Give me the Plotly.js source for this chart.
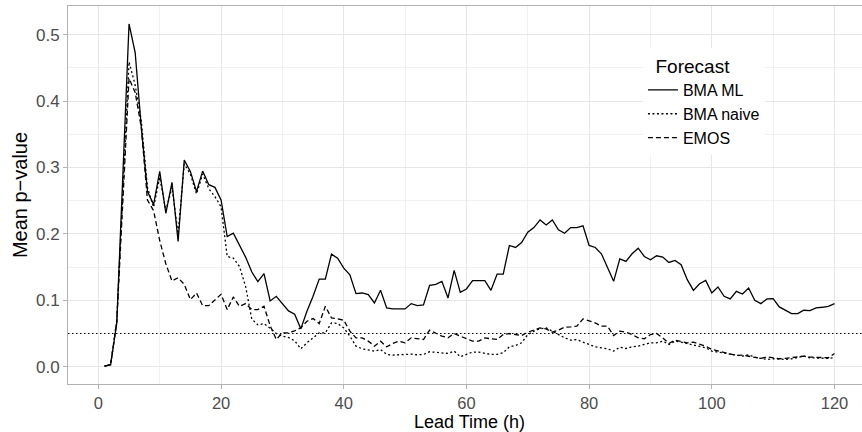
<!DOCTYPE html>
<html>
<head>
<meta charset="utf-8">
<script src="https://cdn.plot.ly/plotly-3.0.1.min.js"></script>
<style>
  html, body { margin: 0; padding: 0; overflow: hidden; background: #ffffff; }
  #chart { width: 871px; height: 432px; }
</style>
</head>
<body>
<div id="chart"></div>
<script>
// Lead times (h)
const leadTime = Array.from({length: 120}, (_, i) => i + 1);

// Mean p-value, BMA ML (solid)
const bmaML = [
  0.001, 0.003, 0.066, 0.290, 0.516, 0.473, 0.360, 0.264, 0.244, 0.294,
  0.231, 0.2775, 0.1885, 0.311, 0.294, 0.2635, 0.2945, 0.274, 0.270, 0.251,
  0.196, 0.201, 0.182, 0.165, 0.143, 0.128, 0.140, 0.099, 0.106, 0.095,
  0.084, 0.079, 0.057, 0.0835, 0.106, 0.132, 0.132, 0.1695, 0.1635, 0.1485,
  0.1385, 0.110, 0.111, 0.1085, 0.096, 0.115, 0.0885, 0.087, 0.087, 0.087,
  0.095, 0.092, 0.093, 0.1225, 0.124, 0.1285, 0.1035, 0.145, 0.112, 0.117,
  0.1295, 0.1295, 0.1295, 0.115, 0.1395, 0.1395, 0.1825, 0.1795, 0.187, 0.2025,
  0.2095, 0.221, 0.2135, 0.221, 0.206, 0.201, 0.2095, 0.2095, 0.212, 0.1825,
  0.1795, 0.170, 0.150, 0.1285, 0.1625, 0.1585, 0.170, 0.1785, 0.166, 0.161,
  0.167, 0.165, 0.157, 0.160, 0.1535, 0.131, 0.115, 0.125, 0.130, 0.111,
  0.120, 0.106, 0.102, 0.1135, 0.1095, 0.1185, 0.100, 0.095, 0.102, 0.1025,
  0.090, 0.0845, 0.080, 0.080, 0.085, 0.0845, 0.0885, 0.0895, 0.091, 0.095
];

// Mean p-value, BMA naive (dotted)
const bmaNaive = [
  0.001, 0.003, 0.070, 0.265, 0.459, 0.424, 0.370, 0.270, 0.240, 0.285,
  0.235, 0.270, 0.200, 0.305, 0.290, 0.260, 0.290, 0.268, 0.256, 0.241,
  0.166, 0.1635, 0.151, 0.121, 0.072, 0.063, 0.065, 0.058, 0.050, 0.046,
  0.044, 0.039, 0.027, 0.036, 0.0435, 0.051, 0.051, 0.066, 0.065, 0.0585,
  0.046, 0.031, 0.027, 0.025, 0.0235, 0.026, 0.0185, 0.0175, 0.018, 0.018,
  0.019, 0.018, 0.0185, 0.0225, 0.022, 0.021, 0.020, 0.0235, 0.015, 0.0185,
  0.022, 0.022, 0.020, 0.0185, 0.0185, 0.021, 0.030, 0.032, 0.036, 0.0485,
  0.0535, 0.057, 0.0585, 0.0535, 0.0485, 0.0435, 0.040, 0.041, 0.037, 0.0335,
  0.030, 0.0285, 0.027, 0.0235, 0.0295, 0.0275, 0.030, 0.031, 0.0335, 0.036,
  0.036, 0.0385, 0.0335, 0.0385, 0.037, 0.035, 0.0325, 0.031, 0.0285, 0.0235,
  0.022, 0.020, 0.0185, 0.0175, 0.016, 0.018, 0.0145, 0.0125, 0.011, 0.012,
  0.011, 0.011, 0.012, 0.0135, 0.016, 0.0135, 0.013, 0.013, 0.0125, 0.0135
];

// Mean p-value, EMOS (dashed)
const emos = [
  0.001, 0.003, 0.068, 0.255, 0.434, 0.413, 0.360, 0.251, 0.235, 0.190,
  0.155, 0.129, 0.134, 0.124, 0.101, 0.111, 0.092, 0.092, 0.101, 0.109,
  0.086, 0.105, 0.091, 0.095, 0.086, 0.086, 0.091, 0.062, 0.041, 0.051,
  0.051, 0.054, 0.0585, 0.0685, 0.0725, 0.065, 0.091, 0.0735, 0.072, 0.070,
  0.0535, 0.0435, 0.0435, 0.0385, 0.031, 0.0385, 0.030, 0.035, 0.0385, 0.036,
  0.0435, 0.042, 0.041, 0.055, 0.050, 0.046, 0.0435, 0.050, 0.046, 0.042,
  0.0385, 0.0385, 0.0435, 0.042, 0.041, 0.0485, 0.050, 0.0485, 0.047, 0.052,
  0.055, 0.0585, 0.057, 0.052, 0.055, 0.0595, 0.060, 0.061, 0.072, 0.0685,
  0.066, 0.061, 0.061, 0.047, 0.0535, 0.052, 0.0485, 0.0435, 0.042, 0.0485,
  0.050, 0.0435, 0.035, 0.040, 0.0385, 0.036, 0.037, 0.0335, 0.031, 0.026,
  0.0235, 0.021, 0.0185, 0.017, 0.0175, 0.016, 0.0145, 0.0125, 0.015, 0.0135,
  0.012, 0.0125, 0.0135, 0.015, 0.016, 0.0145, 0.0145, 0.0135, 0.0135, 0.020
];

const seriesNames = ["BMA ML", "BMA naive", "EMOS"];
const referenceLevel = 0.05;
const xTicks = [0, 20, 40, 60, 80, 100, 120];
const yTicks = [0.0, 0.1, 0.2, 0.3, 0.4, 0.5];

const FONT = "Liberation Sans, Arial, Helvetica, sans-serif";
const GRID = "#e6e6e6";

const mk = (y, name, dash) => ({
  x: leadTime, y: y, name: name, type: "scatter", mode: "lines",
  line: {color: "#000000", width: 1.3, dash: dash},
  hoverinfo: "skip"
});

const data = [
  mk(bmaML, seriesNames[0], "solid"),
  mk(bmaNaive, seriesNames[1], "2px,2.5px"),
  mk(emos, seriesNames[2], "5px,3px")
];

const layout = {
  width: 871, height: 432,
  margin: {l: 68, r: 0, t: 6, b: 48, pad: 0},
  paper_bgcolor: "#ffffff", plot_bgcolor: "#ffffff",
  font: {family: FONT, color: "#000000"},
  showlegend: true,
  legend: {
    x: 0.716, y: 0.888, xanchor: "left", yanchor: "top",
    bgcolor: "#ffffff", borderwidth: 0,
    title: {text: "\u00a0\u00a0Forecast", font: {size: 19, color: "#000000", family: FONT}},
    font: {size: 16, color: "#000000", family: FONT},
    itemwidth: 30, tracegroupgap: 0
  },
  xaxis: {
    range: [-4.95, 125.95], tickvals: xTicks, ticktext: xTicks.map(String),
    showgrid: true, gridcolor: GRID, gridwidth: 1,
    minor: {dtick: 10, tick0: 0, showgrid: true, gridcolor: "#eeeeee", gridwidth: 0.8, ticks: ""},
    zeroline: false,
    showline: true, mirror: true, linecolor: "#b3b3b3", linewidth: 1,
    ticks: "outside", ticklen: 4, tickcolor: "#b3b3b3", tickwidth: 1,
    tickfont: {size: 16.5, color: "#4d4d4d", family: FONT},
    title: {text: ""}
  },
  yaxis: {
    range: [-0.026, 0.543], tickvals: yTicks, ticktext: yTicks.map(v => v.toFixed(1)),
    showgrid: true, gridcolor: GRID, gridwidth: 1,
    minor: {dtick: 0.05, tick0: 0, showgrid: true, gridcolor: "#eeeeee", gridwidth: 0.8, ticks: ""},
    zeroline: false,
    showline: true, mirror: true, linecolor: "#b3b3b3", linewidth: 1,
    ticks: "outside", ticklen: 4, tickcolor: "#b3b3b3", tickwidth: 1,
    tickfont: {size: 17, color: "#4d4d4d", family: FONT},
    title: {text: "Mean p\u2212value", font: {size: 20, color: "#000000", family: FONT}, standoff: 2}
  },
  annotations: [{
    text: "Lead Time (h)", xref: "paper", yref: "paper", x: 0.5, y: -0.072,
    xanchor: "center", yanchor: "top", showarrow: false, borderpad: 0,
    font: {size: 18, color: "#000000", family: FONT}
  }],
  shapes: [{
    type: "line", xref: "paper", x0: 0, x1: 1, yref: "y", y0: referenceLevel, y1: referenceLevel,
    line: {color: "#000000", width: 1.1, dash: "1.5px,2.5px"}, layer: "above"
  }]
};

Plotly.newPlot("chart", data, layout, {staticPlot: true, displayModeBar: false});
</script>
</body>
</html>
